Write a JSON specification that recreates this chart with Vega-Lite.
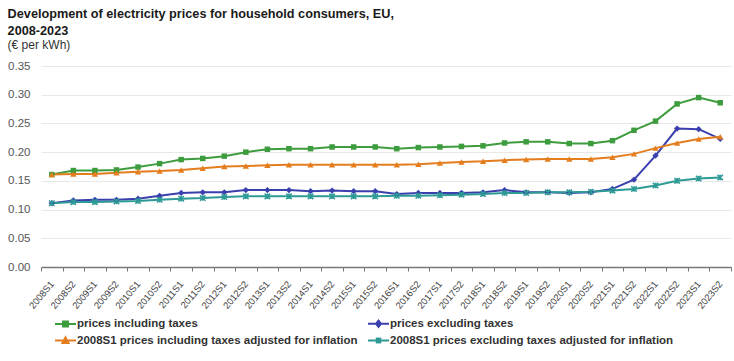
{
  "$schema": "https://vega.github.io/schema/vega-lite/v6.json",
  "width": 690,
  "height": 201,
  "padding": {"left": 7, "top": 8, "right": 3, "bottom": 0},
  "background": "#ffffff",
  "config": {"font": "Liberation Sans", "view": {"stroke": null}},
  "title": {
    "text": ["Development of electricity prices for household consumers, EU,", "2008-2023"],
    "subtitle": "(€ per kWh)",
    "anchor": "start",
    "frame": "bounds",
    "font": "Liberation Sans",
    "fontSize": 12.7,
    "fontWeight": "bold",
    "color": "#1a1a1a",
    "lineHeight": 17,
    "subtitleFont": "Liberation Sans",
    "subtitleFontSize": 12,
    "subtitleColor": "#333333",
    "subtitlePadding": 2,
    "offset": 9
  },
  "data": {"values": [
    {"period": "2008S1", "prices including taxes": 0.161, "prices excluding taxes": 0.111, "2008S1 prices including taxes adjusted for inflation": 0.161, "2008S1 prices excluding taxes adjusted for inflation": 0.111},
    {"period": "2008S2", "prices including taxes": 0.168, "prices excluding taxes": 0.116, "2008S1 prices including taxes adjusted for inflation": 0.162, "2008S1 prices excluding taxes adjusted for inflation": 0.113},
    {"period": "2009S1", "prices including taxes": 0.168, "prices excluding taxes": 0.117, "2008S1 prices including taxes adjusted for inflation": 0.162, "2008S1 prices excluding taxes adjusted for inflation": 0.113},
    {"period": "2009S2", "prices including taxes": 0.169, "prices excluding taxes": 0.117, "2008S1 prices including taxes adjusted for inflation": 0.164, "2008S1 prices excluding taxes adjusted for inflation": 0.114},
    {"period": "2010S1", "prices including taxes": 0.174, "prices excluding taxes": 0.119, "2008S1 prices including taxes adjusted for inflation": 0.166, "2008S1 prices excluding taxes adjusted for inflation": 0.115},
    {"period": "2010S2", "prices including taxes": 0.180, "prices excluding taxes": 0.124, "2008S1 prices including taxes adjusted for inflation": 0.167, "2008S1 prices excluding taxes adjusted for inflation": 0.117},
    {"period": "2011S1", "prices including taxes": 0.187, "prices excluding taxes": 0.129, "2008S1 prices including taxes adjusted for inflation": 0.169, "2008S1 prices excluding taxes adjusted for inflation": 0.119},
    {"period": "2011S2", "prices including taxes": 0.189, "prices excluding taxes": 0.130, "2008S1 prices including taxes adjusted for inflation": 0.172, "2008S1 prices excluding taxes adjusted for inflation": 0.120},
    {"period": "2012S1", "prices including taxes": 0.193, "prices excluding taxes": 0.130, "2008S1 prices including taxes adjusted for inflation": 0.175, "2008S1 prices excluding taxes adjusted for inflation": 0.122},
    {"period": "2012S2", "prices including taxes": 0.200, "prices excluding taxes": 0.134, "2008S1 prices including taxes adjusted for inflation": 0.176, "2008S1 prices excluding taxes adjusted for inflation": 0.123},
    {"period": "2013S1", "prices including taxes": 0.205, "prices excluding taxes": 0.134, "2008S1 prices including taxes adjusted for inflation": 0.177, "2008S1 prices excluding taxes adjusted for inflation": 0.123},
    {"period": "2013S2", "prices including taxes": 0.206, "prices excluding taxes": 0.134, "2008S1 prices including taxes adjusted for inflation": 0.178, "2008S1 prices excluding taxes adjusted for inflation": 0.123},
    {"period": "2014S1", "prices including taxes": 0.206, "prices excluding taxes": 0.132, "2008S1 prices including taxes adjusted for inflation": 0.178, "2008S1 prices excluding taxes adjusted for inflation": 0.123},
    {"period": "2014S2", "prices including taxes": 0.209, "prices excluding taxes": 0.133, "2008S1 prices including taxes adjusted for inflation": 0.178, "2008S1 prices excluding taxes adjusted for inflation": 0.123},
    {"period": "2015S1", "prices including taxes": 0.209, "prices excluding taxes": 0.132, "2008S1 prices including taxes adjusted for inflation": 0.178, "2008S1 prices excluding taxes adjusted for inflation": 0.123},
    {"period": "2015S2", "prices including taxes": 0.209, "prices excluding taxes": 0.132, "2008S1 prices including taxes adjusted for inflation": 0.178, "2008S1 prices excluding taxes adjusted for inflation": 0.123},
    {"period": "2016S1", "prices including taxes": 0.206, "prices excluding taxes": 0.127, "2008S1 prices including taxes adjusted for inflation": 0.178, "2008S1 prices excluding taxes adjusted for inflation": 0.124},
    {"period": "2016S2", "prices including taxes": 0.208, "prices excluding taxes": 0.129, "2008S1 prices including taxes adjusted for inflation": 0.179, "2008S1 prices excluding taxes adjusted for inflation": 0.124},
    {"period": "2017S1", "prices including taxes": 0.209, "prices excluding taxes": 0.129, "2008S1 prices including taxes adjusted for inflation": 0.181, "2008S1 prices excluding taxes adjusted for inflation": 0.125},
    {"period": "2017S2", "prices including taxes": 0.210, "prices excluding taxes": 0.129, "2008S1 prices including taxes adjusted for inflation": 0.183, "2008S1 prices excluding taxes adjusted for inflation": 0.126},
    {"period": "2018S1", "prices including taxes": 0.211, "prices excluding taxes": 0.130, "2008S1 prices including taxes adjusted for inflation": 0.184, "2008S1 prices excluding taxes adjusted for inflation": 0.127},
    {"period": "2018S2", "prices including taxes": 0.216, "prices excluding taxes": 0.134, "2008S1 prices including taxes adjusted for inflation": 0.186, "2008S1 prices excluding taxes adjusted for inflation": 0.129},
    {"period": "2019S1", "prices including taxes": 0.218, "prices excluding taxes": 0.130, "2008S1 prices including taxes adjusted for inflation": 0.187, "2008S1 prices excluding taxes adjusted for inflation": 0.129},
    {"period": "2019S2", "prices including taxes": 0.218, "prices excluding taxes": 0.130, "2008S1 prices including taxes adjusted for inflation": 0.188, "2008S1 prices excluding taxes adjusted for inflation": 0.130},
    {"period": "2020S1", "prices including taxes": 0.215, "prices excluding taxes": 0.129, "2008S1 prices including taxes adjusted for inflation": 0.188, "2008S1 prices excluding taxes adjusted for inflation": 0.130},
    {"period": "2020S2", "prices including taxes": 0.215, "prices excluding taxes": 0.130, "2008S1 prices including taxes adjusted for inflation": 0.188, "2008S1 prices excluding taxes adjusted for inflation": 0.131},
    {"period": "2021S1", "prices including taxes": 0.220, "prices excluding taxes": 0.136, "2008S1 prices including taxes adjusted for inflation": 0.191, "2008S1 prices excluding taxes adjusted for inflation": 0.133},
    {"period": "2021S2", "prices including taxes": 0.238, "prices excluding taxes": 0.152, "2008S1 prices including taxes adjusted for inflation": 0.197, "2008S1 prices excluding taxes adjusted for inflation": 0.136},
    {"period": "2022S1", "prices including taxes": 0.254, "prices excluding taxes": 0.194, "2008S1 prices including taxes adjusted for inflation": 0.207, "2008S1 prices excluding taxes adjusted for inflation": 0.142},
    {"period": "2022S2", "prices including taxes": 0.284, "prices excluding taxes": 0.241, "2008S1 prices including taxes adjusted for inflation": 0.216, "2008S1 prices excluding taxes adjusted for inflation": 0.150},
    {"period": "2023S1", "prices including taxes": 0.295, "prices excluding taxes": 0.240, "2008S1 prices including taxes adjusted for inflation": 0.223, "2008S1 prices excluding taxes adjusted for inflation": 0.154},
    {"period": "2023S2", "prices including taxes": 0.286, "prices excluding taxes": 0.223, "2008S1 prices including taxes adjusted for inflation": 0.227, "2008S1 prices excluding taxes adjusted for inflation": 0.156}
  ]},
  "transform": [
    {"fold": ["prices including taxes", "prices excluding taxes", "2008S1 prices including taxes adjusted for inflation", "2008S1 prices excluding taxes adjusted for inflation"], "as": ["series", "price"]}
  ],
  "encoding": {
    "x": {
      "field": "period",
      "type": "ordinal",
      "bandPosition": 0.5,
      "scale": {"type": "band", "paddingInner": 0, "paddingOuter": 0},
      "axis": {
        "title": null,
        "tickBand": "extent",
        "domainColor": "#777777",
        "domainWidth": 1.5,
        "tickColor": "#777777",
        "tickSize": 4,
        "labelAngle": -50,
        "labelAlign": "right",
        "labelBaseline": "middle",
        "labelFont": "Liberation Sans",
        "labelFontSize": 9.5,
        "labelColor": "#444444",
        "labelPadding": 11,
        "grid": false
      }
    },
    "y": {
      "field": "price",
      "type": "quantitative",
      "scale": {"domain": [0, 0.35]},
      "axis": {
        "title": null,
        "values": [0, 0.05, 0.1, 0.15, 0.2, 0.25, 0.3, 0.35],
        "format": ".2f",
        "domain": false,
        "ticks": false,
        "gridColor": "#e8e8e8",
        "labelFont": "Liberation Sans",
        "labelFontSize": 11.5,
        "labelColor": "#555555",
        "labelPadding": 11
      }
    },
    "color": {
      "field": "series",
      "type": "nominal",
      "scale": {
        "domain": ["prices including taxes", "prices excluding taxes", "2008S1 prices including taxes adjusted for inflation", "2008S1 prices excluding taxes adjusted for inflation"],
        "range": ["#3d9c3d", "#3a3fae", "#e37d1e", "#2e9a96"]
      },
      "legend": {
        "title": null,
        "orient": "none",
        "legendX": 16,
        "legendY": 249,
        "direction": "horizontal",
        "columns": 2,
        "columnPadding": 6,
        "rowPadding": 1,
        "padding": 0,
        "symbolSize": 225,
        "labelFont": "Liberation Sans",
        "labelFontSize": 11.5,
        "labelFontWeight": "bold",
        "labelColor": "#333333",
        "labelOffset": 3,
        "labelLimit": 400,
        "encode": {
          "symbols": {
            "update": {
              "shape": {"signal": "datum.value === 'prices including taxes' ? 'M-1.4,0H1.4M-0.33,-0.33H0.33V0.33H-0.33Z' : datum.value === 'prices excluding taxes' ? 'M-1.4,0H1.4M0,-0.42L0.33,0L0,0.42L-0.33,0Z' : datum.value === '2008S1 prices including taxes adjusted for inflation' ? 'M-1.4,0H1.4M0,-0.42L0.4,0.33H-0.4Z' : 'M-1.4,0H1.4M-0.33,-0.33L0.33,0.33M-0.33,0.33L0.33,-0.33M0,-0.4V0.4'"},
              "fill": {"signal": "scale('color', datum.value)"},
              "stroke": {"signal": "scale('color', datum.value)"},
              "strokeWidth": {"value": 2},
              "opacity": {"value": 1}
            }
          }
        }
      }
    }
  },
  "layer": [
    {"mark": {"type": "line", "strokeWidth": 2}, "encoding": {}},
    {
      "transform": [{"filter": "datum.series === 'prices including taxes'"}],
      "mark": {"type": "point", "shape": "square", "filled": true, "opacity": 1, "size": 30}
    },
    {
      "transform": [{"filter": "datum.series === 'prices excluding taxes'"}],
      "mark": {"type": "point", "shape": "diamond", "filled": true, "opacity": 1, "size": 40}
    },
    {
      "transform": [{"filter": "datum.series === '2008S1 prices including taxes adjusted for inflation'"}],
      "mark": {"type": "point", "shape": "triangle-up", "filled": true, "opacity": 1, "size": 40}
    },
    {
      "transform": [{"filter": "datum.series === '2008S1 prices excluding taxes adjusted for inflation'"}],
      "mark": {"type": "point", "shape": "M-1,-1L1,1M-1,1L1,-1M0,-1V1", "filled": false, "opacity": 1, "size": 30, "strokeWidth": 1.5}
    }
  ]
}
